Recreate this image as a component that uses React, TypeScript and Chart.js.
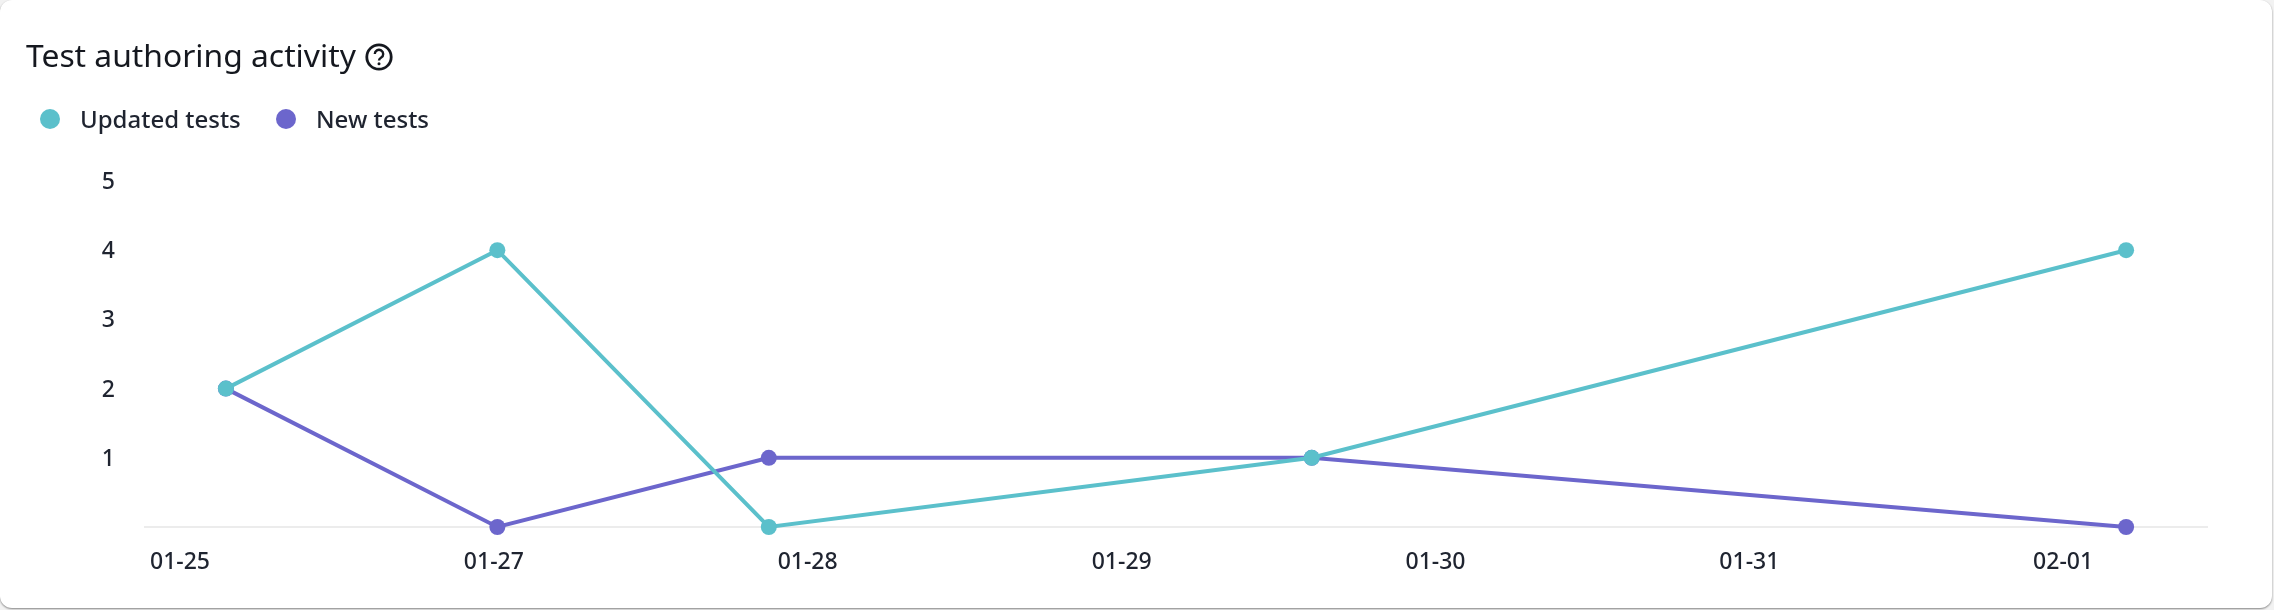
import React, { useEffect, useRef } from "react";
import { Chart, registerables } from "chart.js";

Chart.register(...registerables);

const titleText = "Test authoring activity";
const seriesNames = ["Updated tests", "New tests"];
const seriesColors = ["#5bc0cb", "#6c66cc"];
const pointSlots = [0, 1, 2, 4, 7];
const updatedTests = [2, 4, 0, 1, 4];
const newTests = [2, 0, 1, 1, 0];
const xTickLabels = ["01-25", "01-27", "01-28", "01-29", "01-30", "01-31", "02-01"];
const xTickSlots = [-0.169, 0.987, 2.143, 3.3, 4.456, 5.612, 6.768];
const yTicks = [0, 1, 2, 3, 4, 5];

const FONT = "'Noto Sans', 'Open Sans', sans-serif";
const TEXT = "#1f2430";

export default function App() {
  const ref = useRef<HTMLCanvasElement>(null);

  useEffect(() => {
    const series = [updatedTests, newTests];
    const chart = new Chart(ref.current!, {
      type: "line",
      data: {
        datasets: seriesNames.map((name, i) => ({
          label: name,
          data: pointSlots.map((x, j) => ({ x, y: series[i][j] })),
          borderColor: seriesColors[i],
          backgroundColor: seriesColors[i],
          borderWidth: 4,
          pointRadius: 8,
          pointBorderWidth: 0,
          tension: 0,
          clip: false,
        })),
      },
      options: {
        animation: false,
        responsive: false,
        layout: { padding: { top: 181, right: 67, bottom: 0, left: 0 } },
        plugins: { legend: { display: false }, tooltip: { enabled: false } },
        scales: {
          x: {
            type: "linear",
            min: -0.298,
            max: 7.298,
            afterBuildTicks: (s: any) => {
              s.ticks = xTickSlots.map((value) => ({ value }));
            },
            afterFit: (s: any) => {
              s.height = 83;
            },
            grid: { display: false },
            border: { display: true, color: "#ececec", width: 2 },
            ticks: {
              autoSkip: false,
              maxRotation: 0,
              padding: 14,
              color: TEXT,
              font: { family: FONT, size: 23, weight: 500 },
              callback: (_v: any, i: number) => xTickLabels[i],
            },
          },
          y: {
            min: 0,
            max: 5,
            afterBuildTicks: (s: any) => {
              s.ticks = yTicks.map((value) => ({ value }));
            },
            afterFit: (s: any) => {
              s.width = 145;
            },
            grid: { display: false },
            border: { display: false },
            ticks: {
              padding: 22,
              labelOffset: 1.5,
              color: TEXT,
              font: { family: FONT, size: 23, weight: 500 },
              callback: (v: any) => (v === 0 ? "" : String(v)),
            },
          },
        },
      },
    } as any);
    return () => chart.destroy();
  }, []);

  const label = (left: number, text: string) => (
    <div
      style={{
        position: "absolute",
        left,
        top: 101,
        lineHeight: "36px",
        fontSize: 24,
        fontWeight: 500,
        color: TEXT,
        whiteSpace: "nowrap",
      }}
    >
      {text}
    </div>
  );
  const dot = (cx: number, color: string) => (
    <div
      style={{
        position: "absolute",
        left: cx - 10,
        top: 109,
        width: 20,
        height: 20,
        borderRadius: "50%",
        background: color,
      }}
    />
  );

  return (
    <div
      style={{
        position: "absolute",
        left: 0,
        top: 0,
        width: 2274,
        height: 610,
        overflow: "hidden",
        background: "#f2f2f2",
        fontFamily: FONT,
      }}
    >
      <div
        style={{
          position: "absolute",
          left: 0,
          top: 0,
          width: 2272,
          height: 608,
          background: "#ffffff",
          borderRadius: 12,
          boxShadow: "0 1px 2px rgba(0,0,0,0.45)",
        }}
      />
      <canvas
        ref={ref}
        width={2274}
        height={610}
        style={{ position: "absolute", left: 0, top: 0, width: 2274, height: 610 }}
      />
      <div
        style={{
          position: "absolute",
          left: 26,
          top: 33,
          lineHeight: "44px",
          fontSize: 31.8,
          fontWeight: 400,
          color: "#15181f",
          whiteSpace: "nowrap",
        }}
      >
        {titleText}
      </div>
      <svg
        style={{ position: "absolute", left: 364, top: 42 }}
        width={30}
        height={30}
        viewBox="0 0 30 30"
      >
        <circle cx={15} cy={15} r={12.2} fill="none" stroke="#15181f" strokeWidth={2.8} />
        <path
          d="M10.8 12 a4.2 4.2 0 1 1 6.4 3.6 c-1.4 .9 -2.2 1.5 -2.2 3"
          fill="none"
          stroke="#15181f"
          strokeWidth={2.4}
        />
        <circle cx={15} cy={21.8} r={1.5} fill="#15181f" />
      </svg>
      {dot(50, seriesColors[0])}
      {label(80, seriesNames[0])}
      {dot(286, seriesColors[1])}
      {label(316, seriesNames[1])}
    </div>
  );
}
